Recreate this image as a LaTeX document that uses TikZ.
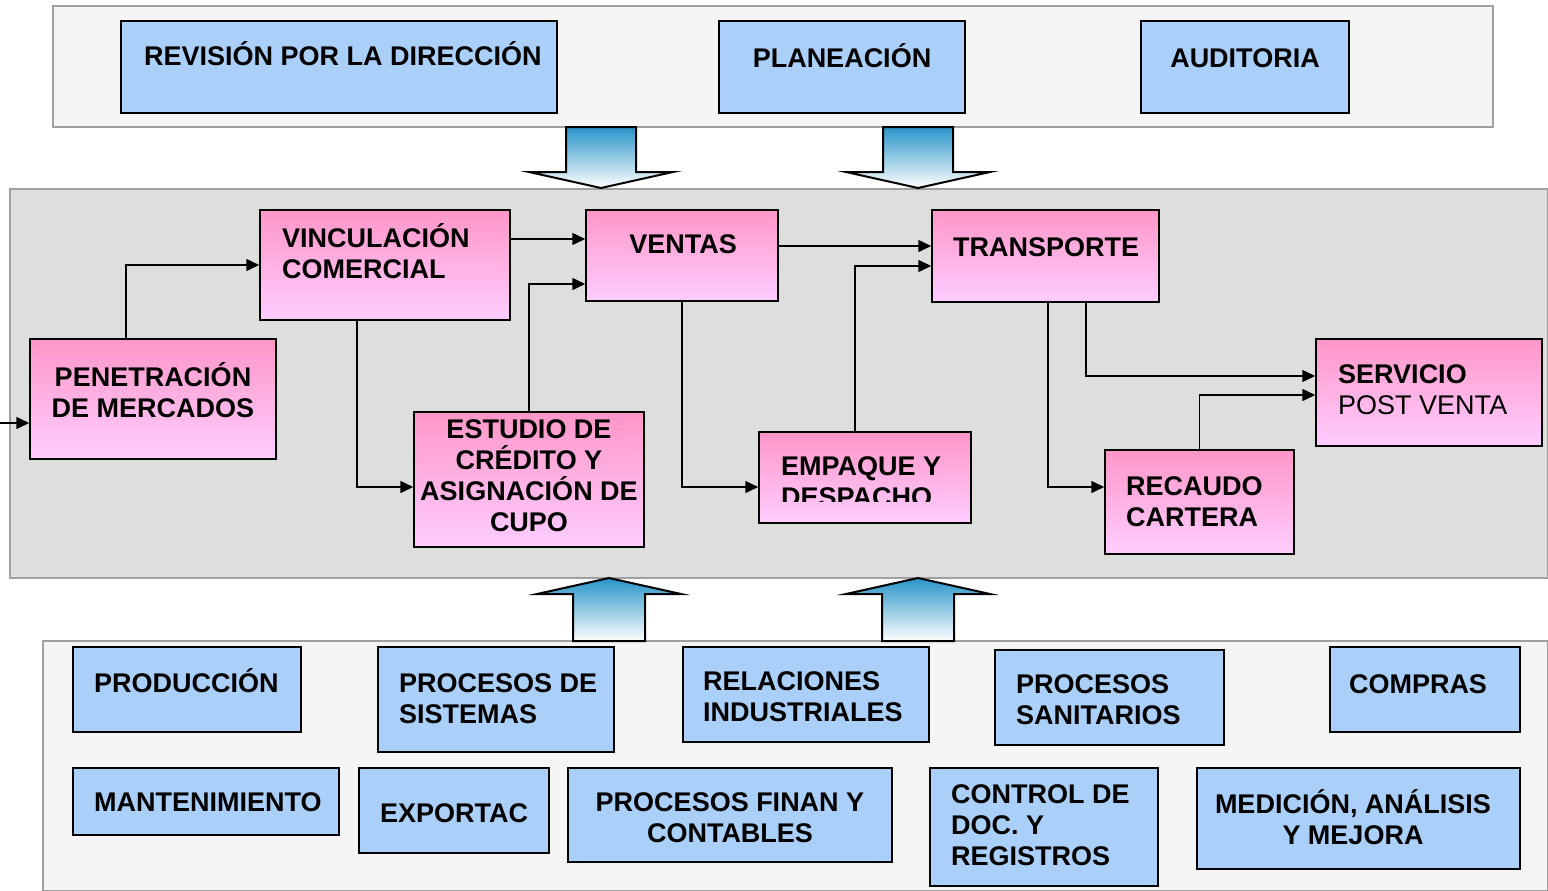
\documentclass[tikz,border=0pt]{standalone}
\usepackage{fontspec}
\setmainfont{Liberation Sans}
\usetikzlibrary{positioning,calc,arrows.meta}

\definecolor{boxblue}{RGB}{170,208,250}
\definecolor{pinktop}{RGB}{255,150,200}
\definecolor{pinkbot}{RGB}{255,205,255}
\definecolor{midgray}{RGB}{222,222,222}
\definecolor{lightgray}{RGB}{245,245,245}
\definecolor{panelgray}{RGB}{160,160,160}
\definecolor{arrowblue}{RGB}{40,148,200}

\tikzset{
  panel/.style={draw=panelgray, line width=2pt},
  sz/.style 2 args={minimum width=#1pt, minimum height=#2pt},
  bluebox/.style={draw, line width=1.5pt, fill=boxblue, inner sep=0pt},
  pinkbox/.style={draw, line width=1.5pt, top color=pinktop, bottom color=pinkbot, inner sep=0pt},
  txt/.style={inner sep=0pt, font=\fontsize{27}{31}\selectfont\bfseries},
  conn/.style={line width=1.5pt, -{Triangle[length=13pt,width=12pt]}},
  fatarrow/.style={draw, line width=2pt, top color=arrowblue, bottom color=white}
}

\begin{document}
\begin{tikzpicture}[x=1pt,y=-1pt]
  \useasboundingbox (0,0) rectangle (1548,891);

  % panels
  \draw[panel, fill=lightgray] (53,6) rectangle (1493,127);
  \draw[panel, fill=midgray] (10,189) rectangle (1548,578);
  \draw[panel, fill=lightgray] (43,641) rectangle (1548,891);

  % block arrows
  \foreach \x in {601,918}
    \draw[fatarrow] (\x-35,127) -- (\x+35,127) -- (\x+35,172) -- (\x+72,172)
      -- (\x,188) -- (\x-72,172) -- (\x-35,172) -- cycle;
  \foreach \x in {609,918}
    \draw[fatarrow] (\x-36,641) -- (\x-36,594) -- (\x-72,594) -- (\x,578)
      -- (\x+72,594) -- (\x+36,594) -- (\x+36,641) -- cycle;

  % direction
  \node[bluebox, sz={436}{92}] (revi) at (339,67) {};
  \node[bluebox, sz={246}{92}] (plan) at (842,67) {};
  \node[bluebox, sz={208}{92}] (audi) at (1245,67) {};
  \node[txt, anchor=base west] at (144,66) {REVISIÓN POR LA DIRECCIÓN};
  \node[txt, anchor=base] at (842,67) {PLANEACIÓN};
  \node[txt, anchor=base] at (1245,67) {AUDITORIA};

  % main process
  \node[pinkbox, sz={250}{110}] (vinc) at (385,265) {};
  \node[pinkbox, sz={192}{91}] (vent) at (682,255.5) {};
  \node[pinkbox, sz={227}{92}] (tran) at (1045.5,256) {};
  \node[pinkbox, sz={246}{120}] (pene) at (153,399) {};
  \node[pinkbox, sz={230}{135}] (estu) at (529,479.5) {};
  \node[pinkbox, sz={212}{91}] (empa) at (865,477.5) {};
  \node[pinkbox, sz={189}{104}] (reca) at (1199.5,502) {};
  \node[pinkbox, sz={226}{107}] (serv) at (1429,392.5) {};

  \node[txt, anchor=base west, align=left] at (282,278) {VINCULACIÓN\\COMERCIAL};
  \node[txt, anchor=base] at (683,253) {VENTAS};
  \node[txt, anchor=base west] at (953,256) {TRANSPORTE};
  \node[txt, anchor=base, align=center] at (153,417) {PENETRACIÓN\\DE MERCADOS};
  \node[txt, anchor=base, align=center] at (529,531) {ESTUDIO DE\\CRÉDITO Y\\ASIGNACIÓN DE\\CUPO};
  \begin{scope}
    \clip (759,432) rectangle (971,501);
    \node[txt, anchor=base west, align=left] at (781,506) {EMPAQUE Y\\DESPACHO};
  \end{scope}
  \node[txt, anchor=base west, align=left] at (1126,526) {RECAUDO\\CARTERA};
  \node[txt, anchor=base west, align=left] at (1338,414) {SERVICIO\\\mdseries POST VENTA};

  % connectors
  \coordinate (ent) at (0,423);
  \draw[conn] (ent) -- (ent -| pene.west);
  \draw[conn] (126,0 |- pene.north) |- (vinc.west);
  \draw[conn] (vinc.east |- 0,239) -- (vent.west |- 0,239);
  \draw[conn] (357,0 |- vinc.south) |- (estu.west |- 0,487);
  \draw[conn] (estu.north) |- (vent.west |- 0,284);
  \draw[conn] (vent.south) |- (empa.west |- 0,487);
  \draw[conn] (vent.east |- 0,246) -- (tran.west |- 0,246);
  \draw[conn] (855,0 |- empa.north) |- (tran.west |- 0,266);
  \draw[conn] (1048,0 |- tran.south) |- (reca.west |- 0,487);
  \draw[conn] (1086,0 |- tran.south) |- (serv.west |- 0,376);
  \draw[conn] (reca.north) |- (serv.west |- 0,395);

  % support
  \node[bluebox, sz={228}{85}] (prod) at (187,689.5) {};
  \node[bluebox, sz={236}{105}] (psis) at (496,699.5) {};
  \node[bluebox, sz={246}{95}] (rind) at (806,694.5) {};
  \node[bluebox, sz={229}{95}] (psan) at (1109.5,697.5) {};
  \node[bluebox, sz={190}{85}] (comp) at (1425,689.5) {};
  \node[bluebox, sz={266}{67}] (mant) at (206,801.5) {};
  \node[bluebox, sz={190}{85}] (expo) at (454,810.5) {};
  \node[bluebox, sz={324}{94}] (pfin) at (730,815) {};
  \node[bluebox, sz={228}{118}] (cdoc) at (1044,827) {};
  \node[bluebox, sz={323}{101}] (medi) at (1358.5,818.5) {};

  \node[txt, anchor=base west] at (94,692) {PRODUCCIÓN};
  \node[txt, anchor=base west, align=left] at (399,723) {PROCESOS DE\\SISTEMAS};
  \node[txt, anchor=base west, align=left] at (703,721) {RELACIONES\\INDUSTRIALES};
  \node[txt, anchor=base west, align=left] at (1016,724) {PROCESOS\\SANITARIOS};
  \node[txt, anchor=base] at (1418,693) {COMPRAS};
  \node[txt, anchor=base west] at (94,811) {MANTENIMIENTO};
  \node[txt, anchor=base west] at (380,822) {EXPORTAC};
  \node[txt, anchor=base, align=center] at (730,842) {PROCESOS FINAN Y\\CONTABLES};
  \node[txt, anchor=base west, align=left] at (951,865) {CONTROL DE\\DOC. Y\\REGISTROS};
  \node[txt, anchor=base, align=center] at (1353,844) {MEDICIÓN, ANÁLISIS\\Y MEJORA};
\end{tikzpicture}
\end{document}
